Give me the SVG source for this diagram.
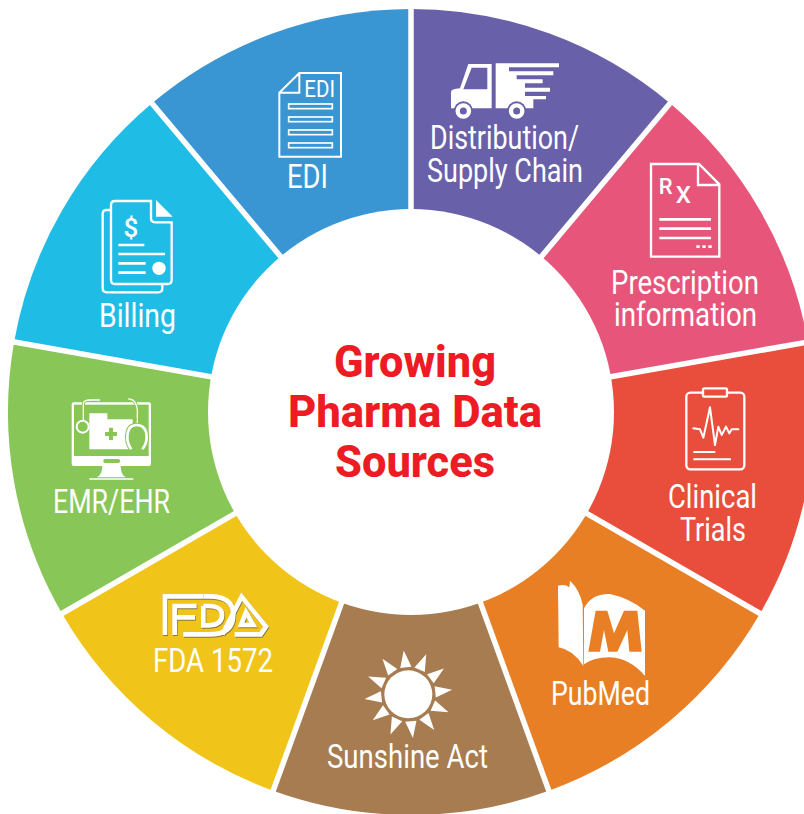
<svg xmlns="http://www.w3.org/2000/svg" width="804" height="814" viewBox="0 0 804 814">
<style>
text{font-family:"Roboto","Liberation Sans",sans-serif}
.lb{fill:#fff;font-size:33px}
.t{fill:#ED1C24;font-size:44px;font-weight:800}
.s{fill:none;stroke:#fff}
.w{fill:#fff}
.div{stroke:#fff;stroke-width:5.5}
</style>
<defs>
<polygon id="ray" class="w" points="265,31 249,82 283,82"/>
<g id="fdaLogo" fill="none" stroke-width="14">
<path d="M75 165V49H190M104 165V78H170M104 112H165"/>
<path d="M190 49H208Q280 49 280 104Q280 163 208 163H130M190 78V136H208Q246 134 246 104Q246 80 208 78H190"/>
<path d="M247 163L305 50L378 140L362 163H284M303 135H340L318 97Z"/>
</g>
</defs>
<g id="node-edi">
<path fill="#3A95D3" d="M411 412L152 103.3A403 403 0 0 1 411 9Z"/>
<g transform="translate(250,0) scale(.33333)">
<path class="s" stroke-width="6" d="M148 219H273V470H88V278ZM148 219V278H88"/>
<text x="163" y="290" fill="#fff" font-size="70" textLength="92" lengthAdjust="spacingAndGlyphs">EDI</text>
<g fill="#3A95D3" stroke="#fff" stroke-width="5"><rect x="116" y="312" width="131" height="14"/><rect x="116" y="351" width="131" height="14"/><rect x="116" y="390" width="131" height="14"/><rect x="116" y="429" width="131" height="14"/></g>
</g>
<text class="lb" x="287" y="188" textLength="41" lengthAdjust="spacingAndGlyphs">EDI</text>
</g>
<g id="node-distribution">
<path fill="#6860A9" d="M411 412V9A403 403 0 0 1 670 103.3Z"/>
<g transform="translate(250,0) scale(.33333)">
<path class="w" fill-rule="evenodd" d="M603 325V275Q603 268 630 265L655 192H725V325ZM640 268H712V203H665Z"/>
<path class="w" d="M737 190H927V202H777V214H910V226H800V238H878V250H825V263H900V275H825V288H888V298H850V325H737Z"/>
<g fill="#6860A9"><circle cx="640" cy="333" r="29"/><circle cx="800" cy="333" r="29"/></g>
<g fill="#6860A9" stroke="#fff" stroke-width="13"><circle cx="640" cy="333" r="17"/><circle cx="800" cy="333" r="17"/></g>
</g>
<text class="lb" x="430" y="149" textLength="149" lengthAdjust="spacingAndGlyphs">Distribution/</text>
<text class="lb" x="427" y="182" textLength="156" lengthAdjust="spacingAndGlyphs">Supply Chain</text>
</g>
<g id="node-prescription">
<path fill="#E8557A" d="M411 412L670 103.3A403 403 0 0 1 807.9 342Z"/>
<g transform="translate(600,150) scale(.33333)">
<path class="s" stroke-width="7" d="M153 42H297L358 103V320H153ZM294 46V105H358"/>
<text x="176" y="133" fill="#fff" font-size="66" font-weight="500">R</text>
<text x="227" y="160" fill="#fff" font-size="72" font-weight="500">X</text>
<path class="s" stroke-width="8" d="M178 208H333M178 236H333M178 264H333"/>
<path class="s" stroke-width="8" stroke-dasharray="10 8" d="M289 290H336"/>
</g>
<text class="lb" x="611" y="294" textLength="148" lengthAdjust="spacingAndGlyphs">Prescription</text>
<text class="lb" x="614" y="326" textLength="143" lengthAdjust="spacingAndGlyphs">information</text>
</g>
<g id="node-clinical">
<path fill="#E94E3C" d="M411 412L807.9 342A403 403 0 0 1 760 613.5Z"/>
<g transform="translate(640,370) scale(.33333)">
<rect class="s" stroke-width="7" x="139" y="68" width="174" height="230" rx="12"/>
<rect fill="#E94E3C" stroke="#fff" stroke-width="7" x="189" y="55" width="72" height="25" rx="4"/>
<path class="s" stroke-width="6" stroke-linejoin="round" stroke-linecap="round" d="M160 175L180 178L190 203L210 112L225 225L235 170L245 195L258 170L268 190L275 178H295"/>
<path class="s" stroke-width="6" d="M160 246H226M160 268H273"/>
</g>
<text class="lb" x="668" y="508" textLength="89" lengthAdjust="spacingAndGlyphs">Clinical</text>
<text class="lb" x="680" y="541" textLength="66" lengthAdjust="spacingAndGlyphs">Trials</text>
</g>
<g id="node-pubmed">
<path fill="#E87F24" d="M411 412L760 613.5A403 403 0 0 1 548.8 790.7Z"/>
<g transform="translate(530,570) scale(.33333)">
<path class="w" d="M84 47Q105 42 118 52L120 32Q150 60 158 105L160 288Q130 240 86 232Z"/>
<path class="w" d="M162 283V115Q185 70 240 72Q300 85 345 122V318Q300 265 240 262Q190 262 162 283Z"/>
<path fill="#E87F24" d="M175 245L197 122H232L252 190L282 122H322L335 245H298L292 180L262 245H235L222 180L210 245Z"/>
</g>
<text class="lb" x="551" y="705" textLength="99" lengthAdjust="spacingAndGlyphs">PubMed</text>
</g>
<g id="node-sunshine">
<path fill="#A67C50" d="M411 412L548.8 790.7A403 403 0 0 1 273.2 790.7Z"/>
<g transform="translate(320,640) scale(.33333)">
<circle class="w" cx="265" cy="163" r="72"/>
<use href="#ray" transform="rotate(-6 265 163)"/><use href="#ray" transform="rotate(24 265 163)"/><use href="#ray" transform="rotate(54 265 163)"/><use href="#ray" transform="rotate(84 265 163)"/><use href="#ray" transform="rotate(114 265 163)"/><use href="#ray" transform="rotate(144 265 163)"/><use href="#ray" transform="rotate(174 265 163)"/><use href="#ray" transform="rotate(204 265 163)"/><use href="#ray" transform="rotate(234 265 163)"/><use href="#ray" transform="rotate(264 265 163)"/><use href="#ray" transform="rotate(294 265 163)"/><use href="#ray" transform="rotate(324 265 163)"/>
</g>
<text class="lb" x="327" y="768" textLength="161" lengthAdjust="spacingAndGlyphs">Sunshine Act</text>
</g>
<g id="node-fda">
<path fill="#F0C419" d="M411 412L273.2 790.7A403 403 0 0 1 62 613.5Z"/>
<g transform="translate(140,580) scale(.33333)">
<use href="#fdaLogo" stroke="#8A7A3A" transform="translate(2,3)"/>
<use href="#fdaLogo" stroke="#fff"/>
</g>
<text class="lb" x="153" y="672" textLength="120" lengthAdjust="spacingAndGlyphs">FDA 1572</text>
</g>
<g id="node-emr">
<path fill="#88C657" d="M411 412L62 613.5A403 403 0 0 1 14.1 342Z"/>
<g transform="translate(50,390) scale(.33333)">
<rect class="w" x="65" y="37" width="238" height="191" rx="6"/>
<rect fill="#88C657" x="72" y="44" width="224" height="154"/>
<rect fill="#88C657" x="160" y="207" width="50" height="12" rx="5"/>
<path class="w" d="M157 228H212Q212 255 228 262H140Q157 255 157 228Z"/>
<path class="s" stroke-width="4" d="M118 267H250"/>
<path class="w" d="M118 70H172V88H248V178H118Z"/>
<path fill="#88C657" d="M177 113H189V126H201V138H189V150H177V138H165V126H177Z"/>
<circle fill="#88C657" stroke="#fff" stroke-width="6" cx="98" cy="110" r="18"/>
<path fill="none" stroke="#88C657" stroke-width="9" d="M100 90V42Q100 30 120 30H150M235 27Q258 25 262 60V105"/>
<path class="s" stroke-width="4" d="M100 90V42Q100 30 120 30H150M235 27Q258 25 262 60V105"/>
<path fill="#88C657" stroke="#88C657" stroke-width="14" d="M244 178Q232 160 232 143Q232 105 260 105Q290 105 290 143Q290 160 277 178Z"/>
<path fill="#88C657" stroke="#fff" stroke-width="8" d="M244 178Q232 160 232 143Q232 105 260 105Q290 105 290 143Q290 160 277 178"/>
</g>
<text class="lb" x="53" y="513" textLength="117" lengthAdjust="spacingAndGlyphs">EMR/EHR</text>
</g>
<g id="node-billing">
<path fill="#1FBDE6" d="M411 412L14.1 342A403 403 0 0 1 152 103.3Z"/>
<g transform="translate(90,190) scale(.33333)">
<path class="s" stroke-width="7" d="M62 60H50Q38 60 38 72V295Q38 307 50 307H205Q217 307 217 295V283"/>
<path class="s" stroke-width="7" d="M183 33H75Q63 33 63 45V270Q63 282 75 282H232Q245 282 245 270V97H195Q183 97 183 85Z"/>
<path class="w" d="M198 30L248 80H198Z"/>
<text x="123" y="140" fill="#fff" font-size="78" text-anchor="middle" font-weight="500">$</text>
<path class="s" stroke-width="8" d="M85 165H163M85 192H225M85 220H167M85 248H167"/>
<circle class="w" cx="207" cy="235" r="20"/>
</g>
<text class="lb" x="99" y="327" textLength="77" lengthAdjust="spacingAndGlyphs">Billing</text>
</g>
<g id="dividers">
<line class="div" x1="411" y1="412" x2="411" y2="2"/>
<line class="div" x1="411" y1="412" x2="674.5" y2="97.9"/>
<line class="div" x1="411" y1="412" x2="814.8" y2="340.8"/>
<line class="div" x1="411" y1="412" x2="766.1" y2="617"/>
<line class="div" x1="411" y1="412" x2="551.2" y2="797.3"/>
<line class="div" x1="411" y1="412" x2="270.8" y2="797.3"/>
<line class="div" x1="411" y1="412" x2="55.9" y2="617"/>
<line class="div" x1="411" y1="412" x2="7.2" y2="340.8"/>
<line class="div" x1="411" y1="412" x2="147.5" y2="97.9"/>
</g>
<g id="center">
<circle cx="411" cy="412" r="203" fill="#fff"/>
<text class="t" x="334" y="377" textLength="162" lengthAdjust="spacingAndGlyphs">Growing</text>
<text class="t" x="288" y="427" textLength="254" lengthAdjust="spacingAndGlyphs">Pharma Data</text>
<text class="t" x="335" y="477" textLength="160" lengthAdjust="spacingAndGlyphs">Sources</text>
</g>
</svg>
